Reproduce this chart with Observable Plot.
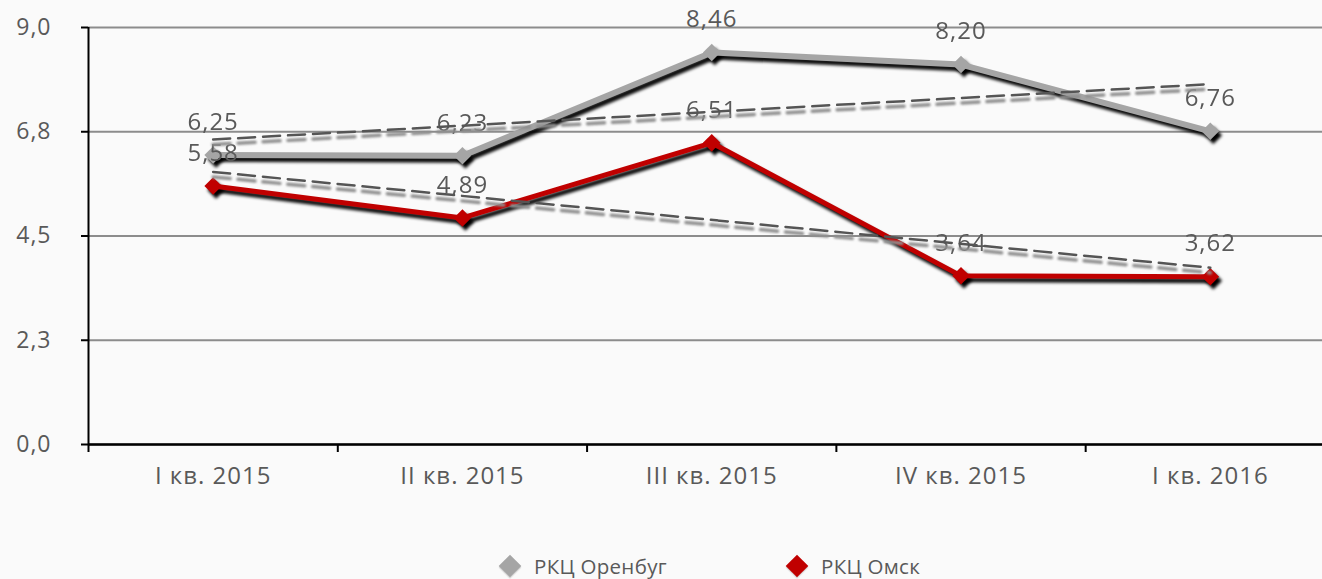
<!DOCTYPE html>
<html><head><meta charset="utf-8">
<script src="https://cdn.jsdelivr.net/npm/d3@7"></script>
<script src="https://cdn.jsdelivr.net/npm/@observablehq/plot@0.6"></script>
<style>
html,body{margin:0;padding:0;background:#fafafa;width:1322px;height:579px;overflow:hidden;font-family:"Open Sans",sans-serif;}
#chart svg{display:block;}
#legend{position:relative;height:49px;}
.item{position:absolute;top:25px;height:22px;line-height:22px;display:flex;align-items:center;font-size:20.5px;color:#595959;letter-spacing:0.3px;}
.dm{width:16px;height:16px;transform:rotate(45deg);margin-right:16px;box-shadow:1px 1px 1px rgba(0,0,0,0.15);}
svg text{letter-spacing:1px;}
</style></head>
<body>
<div id="chart"></div>
<div id="legend">
  <div class="item" style="left:502px"><div class="dm" style="background:#a5a5a5"></div><span>РКЦ Оренбуг</span></div>
  <div class="item" style="left:789px"><div class="dm" style="background:#c00000"></div><span>РКЦ Омск</span></div>
</div>
<script>
const categories = ["I кв. 2015", "II кв. 2015", "III кв. 2015", "IV кв. 2015", "I кв. 2016"];
const orenburg = [6.25, 6.23, 8.46, 8.20, 6.76];
const omsk = [5.58, 4.89, 6.51, 3.64, 3.62];
const yTicks = [0, 2.25, 4.5, 6.75, 9];
const seriesNames = ["РКЦ Оренбуг", "РКЦ Омск"];

const oData = categories.map((c, i) => ({i, c, v: orenburg[i]}));
const mData = categories.map((c, i) => ({i, c, v: omsk[i]}));
const fmt1 = d => d.toFixed(1).replace(".", ",");
const fmt2 = d => d.toFixed(2).replace(".", ",");
const boundaries = categories.map((c, i) => i - 0.5);

const GREY = "#a5a5a5", RED = "#c00000", TXT = "#595959";

function seriesMarks(data, color, w) {
  return [
    Plot.line(data, {x: "i", y: "v", stroke: "#000", strokeWidth: w, dx: 3, dy: 4, strokeOpacity: 0.95, ariaDescription: "shadow"}),
    Plot.dot(data, {x: "i", y: "v", symbol: "square", rotate: 45, r: 7, fill: "#000", dx: 3, dy: 4, ariaDescription: "shadow"}),
    Plot.line(data, {x: "i", y: "v", stroke: color, strokeWidth: w}),
    Plot.dot(data, {x: "i", y: "v", symbol: "square", rotate: 45, r: 7, fill: color})
  ];
}
function trendMarks(data) {
  return [
    Plot.linearRegressionY(data, {x: "i", y: "v", ci: 0, stroke: "#8f8f8f", strokeWidth: 3.5, strokeDasharray: "17,8", dy: 5, ariaDescription: "softshadow"}),
    Plot.linearRegressionY(data, {x: "i", y: "v", ci: 0, stroke: "#555", strokeWidth: 2.5, strokeDasharray: "17,8"})
  ];
}
function labelMarks(data) {
  return Plot.text(data, {x: "i", y: "v", text: d => fmt2(d.v), dy: -33, fontSize: 24, fill: TXT});
}

const chart = Plot.plot({
  width: 1322, height: 530,
  marginLeft: 88, marginRight: 0, marginTop: 27, marginBottom: 86,
  x: {domain: [-0.5, 4.45], axis: null},
  y: {domain: [0, 9], axis: null},
  style: {background: "transparent", fontFamily: "Open Sans", color: TXT, overflow: "visible"},
  marks: [
    Plot.gridY(yTicks, {stroke: "#8c8c8c", strokeOpacity: 1, strokeWidth: 2}),
    Plot.ruleX([-0.5], {stroke: "#000", strokeWidth: 2}),
    Plot.ruleY([0], {stroke: "#000", strokeWidth: 2.5}),
    Plot.axisY(yTicks, {tickSize: 7, tickPadding: 30, tickFormat: fmt1, stroke: "#000", strokeWidth: 2, fill: TXT, fontSize: 23, label: null}),
    Plot.axisX(boundaries, {tickSize: 8, tickFormat: () => "", stroke: "#000", strokeWidth: 2, label: null}),
    Plot.axisX(categories.map((c, i) => i), {tickSize: 0, tickPadding: 22, tickFormat: i => categories[i], fill: TXT, fontSize: 24, label: null}),
    ...seriesMarks(oData, GREY, 6),
    ...seriesMarks(mData, RED, 5),
    labelMarks(oData),
    labelMarks(mData),
    ...trendMarks(oData),
    ...trendMarks(mData)
  ]
});

const ns = "http://www.w3.org/2000/svg";
const defs = document.createElementNS(ns, "defs");
defs.innerHTML = '<filter id="blur" x="-10%" y="-10%" width="120%" height="120%"><feGaussianBlur stdDeviation="1.6"/></filter>' +
  '<filter id="blur2" x="-10%" y="-50%" width="120%" height="200%"><feGaussianBlur stdDeviation="0.9"/></filter>';
chart.insertBefore(defs, chart.firstChild);
chart.querySelectorAll('[aria-description="shadow"]').forEach(g => g.setAttribute("filter", "url(#blur)"));
chart.querySelectorAll('[aria-description="softshadow"]').forEach(g => g.setAttribute("filter", "url(#blur2)"));
document.getElementById("chart").appendChild(chart);
</script>
</body></html>
